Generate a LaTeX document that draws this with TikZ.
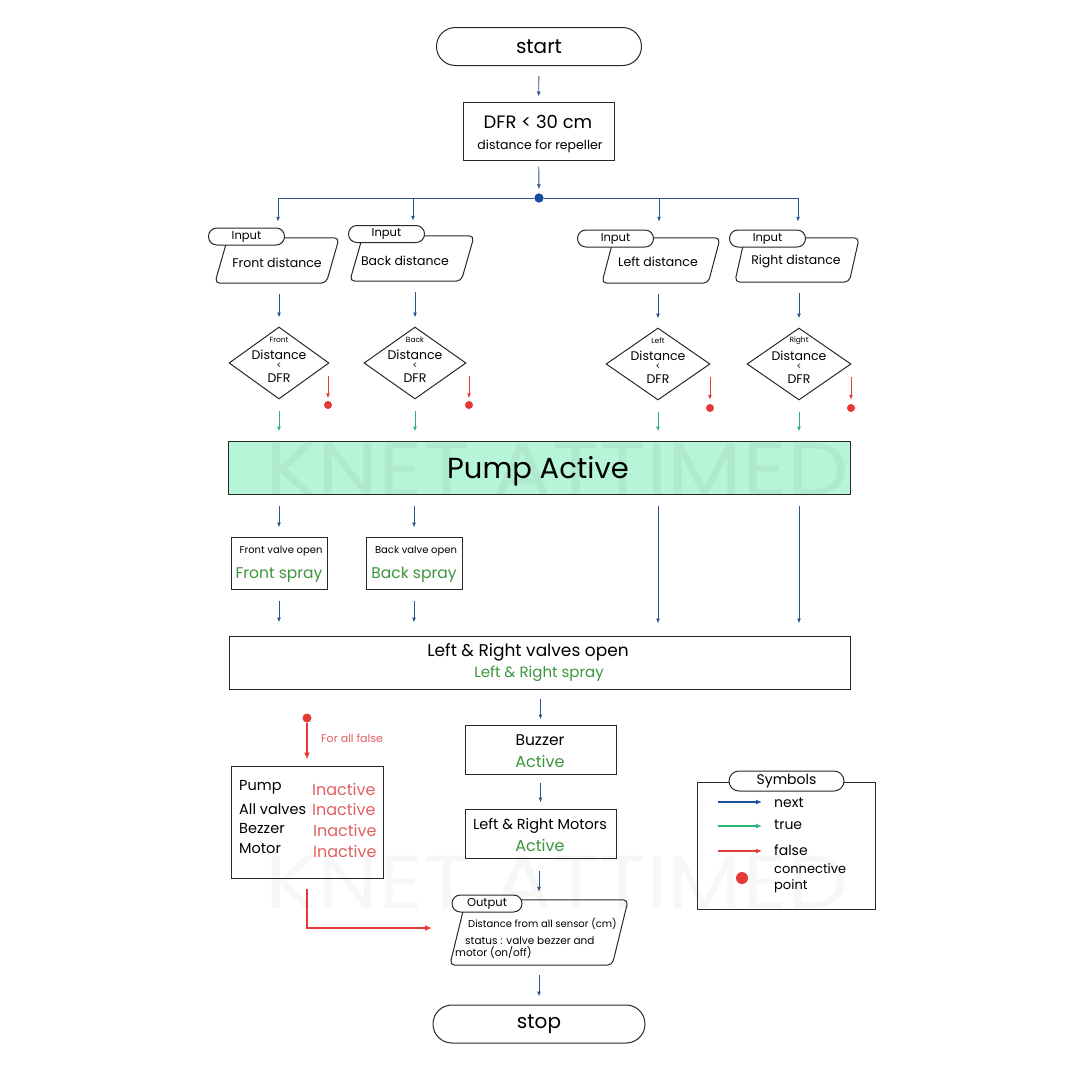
\documentclass[tikz,border=0pt]{standalone}
\usepackage{fontspec}
\setmainfont{Poppins}
\usetikzlibrary{arrows.meta,shapes.geometric,calc}
\definecolor{nextblue}{RGB}{45,85,140}
\definecolor{legblue}{RGB}{30,80,160}
\definecolor{dotblue}{RGB}{25,75,165}
\definecolor{truegreen}{RGB}{46,180,120}
\definecolor{falsered}{RGB}{229,57,53}
\definecolor{greentext}{RGB}{60,150,60}
\definecolor{redtext}{RGB}{224,95,95}
\definecolor{mint}{RGB}{183,245,216}
\definecolor{boxline}{RGB}{40,40,40}
\newcommand\fsz[1]{\fontsize{#1}{#1}\selectfont}
\newcommand\pgram[2]{\draw[boxline, line width=1pt, rounded corners=5pt] ($(#1.north west)+(#2,0)$) -- (#1.north east) -- ($(#1.south east)+(-#2,0)$) -- (#1.south west) -- cycle;}
\begin{document}
\begin{tikzpicture}[x=1pt,y=-1pt,
  box/.style={draw=boxline, line width=1pt, inner sep=0pt},
  term/.style={draw=boxline, line width=1pt, inner sep=0pt, rounded corners=18.9pt},
  tab/.style={draw=boxline, line width=1pt, fill=white, inner sep=0pt, rounded corners=8.4pt},
  pg/.style={inner sep=0pt},
  dia/.style={diamond, draw=boxline, line width=1pt, inner sep=0pt},
  rdot/.style={circle, fill=falsered, inner sep=0pt, minimum size=8pt},
  nextarr/.style={draw=nextblue, line width=0.9pt, -{Latex[length=5pt,width=4pt]}},
  truearr/.style={draw=truegreen, line width=0.9pt, -{Latex[length=5pt,width=4pt]}},
  falsearr/.style={draw=falsered, line width=0.9pt, -{Latex[length=5pt,width=4pt]}},
  bigfalse/.style={draw=falsered, line width=1.8pt, -{Latex[length=7pt,width=6pt]}},
  lbl/.style={inner sep=0pt}
]
\fill[white] (0,0) rectangle (1080,1080);
\useasboundingbox (0,0) rectangle (1080,1080);

% start and DFR
\node[term, minimum width=205pt, minimum height=38pt] (start) at (539,46.5) {\fsz{20}start};
\node[box, minimum width=151pt, minimum height=58pt] (dfr) at (538.5,131) {};
\node[lbl] (dfrt) at (538,122) {\fsz{18}DFR < 30 cm};
\node[lbl] (dfrs) at (540,146) {\fsz{12.5}distance for repeller};
\draw[nextarr, shorten <=10pt, shorten >=5pt] (start) -- (dfr);

% inputs
\node[pg, minimum width=124pt, minimum height=45pt] (inF) at (277,260.5) {};
\node[pg, minimum width=124pt, minimum height=45pt] (inB) at (412,258.5) {};
\node[pg, minimum width=118pt, minimum height=45pt] (inL) at (661,260.5) {};
\node[pg, minimum width=124pt, minimum height=44pt] (inR) at (797,260) {};
\node[lbl] (inFt) at (277,262.5) {\fsz{12.5}Front distance};
\node[lbl] (inBt) at (405,260.5) {\fsz{12.5}Back distance};
\node[lbl] (inLt) at (658,261.5) {\fsz{12.5}Left distance};
\node[lbl] (inRt) at (796,261.5) {\fsz{12.5}Right distance};
\pgram{inF}{13}
\pgram{inB}{13}
\pgram{inL}{12}
\pgram{inR}{10}
\node[tab, minimum width=76pt, minimum height=17pt] (tF) at (246.5,236.5) {\fsz{11.5}Input};
\node[tab, minimum width=76pt, minimum height=17pt] (tB) at (386.5,234) {\fsz{11.5}Input};
\node[tab, minimum width=76pt, minimum height=17pt] (tL) at (615.5,238.5) {\fsz{11.5}Input};
\node[tab, minimum width=76pt, minimum height=17pt] (tR) at (767.5,238.5) {\fsz{11.5}Input};

% splitter
\node[circle, fill=dotblue, inner sep=0pt, minimum size=9pt] (split) at (539,198) {};
\draw[nextarr, shorten <=6pt, shorten >=4pt] (dfr) -- (split);
\draw[nextarr, shorten >=16pt] (split) -| ($(inF.north)+(1,0)$);
\draw[nextarr, shorten >=15pt] (split) -| ($(inB.north)+(1,0)$);
\draw[nextarr, shorten >=16pt] (split) -| ($(inL.north)+(-2,0)$);
\draw[nextarr, shorten >=16pt] (split) -| ($(inR.north)+(1,0)$);
\node[circle, fill=dotblue, inner sep=0pt, minimum size=9pt] at (split) {};

% diamonds
\node[dia, minimum width=100pt, minimum height=72pt] (dF) at (279,363) {};
\node[dia, minimum width=102pt, minimum height=72pt] (dB) at (415,363) {};
\node[dia, minimum width=104pt, minimum height=72pt] (dL) at (658,364) {};
\node[dia, minimum width=104pt, minimum height=72pt] (dR) at (799,364) {};
\foreach \n/\lab/\x/\y in {dF/Front/279/363, dB/Back/415/363, dL/Left/658/364, dR/Right/799/364}{
  \node[lbl] (\n a) at (\x,\y-23) {\fsz{7.5}\lab};
  \node[lbl] (\n b) at (\x,\y-8.5) {\fsz{12.5}Distance};
  \node[lbl] (\n c) at (\x,\y+3) {\fsz{9}<};
  \node[lbl] (\n d) at (\x,\y+15) {\fsz{12.5}DFR};
}
\draw[nextarr, shorten <=11pt, shorten >=9pt] (inF.south -| dF) -- (dF.north);
\draw[nextarr, shorten <=11pt, shorten >=9pt] (inB.south -| dB) -- (dB.north);
\draw[nextarr, shorten <=11pt, shorten >=9pt] (inL.south -| dL) -- (dL.north);
\draw[nextarr, shorten <=11pt, shorten >=9pt] (inR.south -| dR) -- (dR.north);

% false markers
\node[rdot] (rF) at (328,405) {};
\node[rdot] (rB) at (469,405) {};
\node[rdot] (rL) at (710,408) {};
\node[rdot] (rR) at (851,408) {};
\coordinate (rFs) at (328,376);
\coordinate (rBs) at (469,376);
\coordinate (rLs) at (710,377);
\coordinate (rRs) at (851,377);
\draw[falsearr, shorten >=2.5pt] (rFs) -- (rF);
\draw[falsearr, shorten >=2.5pt] (rBs) -- (rB);
\draw[falsearr, shorten >=4pt] (rLs) -- (rL);
\draw[falsearr, shorten >=4pt] (rRs) -- (rR);

% pump
\node[box, fill=mint, minimum width=622pt, minimum height=53pt] (pump) at (539,467.5) {};
\node[lbl] (pumpt) at (538,471) {\fsz{29}Pump Active};
\draw[truearr, shorten <=11pt, shorten >=9pt] (dF.south) -- (dF.south |- pump.north);
\draw[truearr, shorten <=11pt, shorten >=9pt] (dB.south) -- (dB.south |- pump.north);
\draw[truearr, shorten <=11pt, shorten >=9pt] (dL.south) -- (dL.south |- pump.north);
\draw[truearr, shorten <=11pt, shorten >=9pt] (dR.south) -- (dR.south |- pump.north);

% valves
\node[box, minimum width=96pt, minimum height=52pt] (fv) at (279,563) {};
\node[lbl] (fvt) at (281,551) {\fsz{10}Front valve open};
\node[lbl, text=greentext] (fvs) at (279,575) {\fsz{15.5}Front spray};
\node[box, minimum width=96pt, minimum height=52pt] (bv) at (414,563) {};
\node[lbl] (bvt) at (416,551) {\fsz{10}Back valve open};
\node[lbl, text=greentext] (bvs) at (414,575) {\fsz{15.5}Back spray};

\node[box, minimum width=621pt, minimum height=53pt] (lr) at (539.5,662.5) {};
\node[lbl] (lrt) at (528,652) {\fsz{17}Left \& Right valves open};
\node[lbl, text=greentext] (lrs) at (539,674) {\fsz{15}Left \& Right spray};

\draw[nextarr, shorten <=11pt, shorten >=9pt] (pump.south -| fv) -- (fv.north);
\draw[nextarr, shorten <=11pt, shorten >=9pt] (pump.south -| bv) -- (bv.north);
\draw[nextarr, shorten <=11pt, shorten >=12pt] (pump.south -| dL) -- (lr.north -| dL);
\draw[nextarr, shorten <=11pt, shorten >=12pt] (pump.south -| dR) -- (lr.north -| dR);
\draw[nextarr, shorten <=11pt, shorten >=13pt] (fv.south) -- (fv.south |- lr.north);
\draw[nextarr, shorten <=11pt, shorten >=13pt] (bv.south) -- (bv.south |- lr.north);

% buzzer, motors
\node[box, minimum width=151pt, minimum height=49pt] (buz) at (540.5,749.5) {};
\node[lbl] (buzt) at (540,740) {\fsz{15.5}Buzzer};
\node[lbl, text=greentext] (buza) at (540,761) {\fsz{16}Active};
\node[box, minimum width=151pt, minimum height=49pt] (mot) at (540.5,833.5) {};
\node[lbl] (mott) at (540,826) {\fsz{14.5}Left \& Right Motors};
\node[lbl, text=greentext] (mota) at (540,845) {\fsz{16}Active};
\draw[nextarr, shorten <=9pt, shorten >=5pt] (lr.south -| buz) -- (buz.north);
\draw[nextarr, shorten <=8pt, shorten >=6pt] (buz) -- (mot);

% output
\node[pg, minimum width=178pt, minimum height=65pt] (outp) at (539,932.5) {};
\pgram{outp}{16}
\node[tab, minimum width=70pt, minimum height=17pt] (tO) at (487,903.5) {\fsz{11.5}Output};
\node[lbl, anchor=west] (o1) at (468,924) {\fsz{10}Distance from all sensor (cm)};
\node[lbl, anchor=west] (o2) at (465,941) {\fsz{10.5}status : valve bezzer and};
\node[lbl, anchor=west] (o3) at (455,953) {\fsz{10.5}motor (on/off)};
\draw[nextarr, shorten <=12pt, shorten >=8pt] (mot.south -| outp) -- (outp.north);

% stop
\node[term, minimum width=212pt, minimum height=38pt] (stop) at (539,1024) {\fsz{20}stop};
\draw[nextarr, shorten <=10pt, shorten >=8pt] (outp) -- (stop);

% all false branch
\node[box, minimum width=152pt, minimum height=112pt] (inact) at (307,822) {};
\node[circle, fill=falsered, inner sep=0pt, minimum size=9pt] (fdot) at (307,718) {};
\draw[bigfalse, shorten >=6pt] (fdot) -- (fdot |- inact.north);
\node[lbl, anchor=west, text=redtext] (fall) at (321,738) {\fsz{11}For all false};
\node[lbl, anchor=west] (p1) at (239,787) {\fsz{14.5}Pump};
\node[lbl, anchor=west] (p2) at (239,809) {\fsz{14.5}All valves};
\node[lbl, anchor=west] (p3) at (239,828) {\fsz{14.5}Bezzer};
\node[lbl, anchor=west] (p4) at (239,849) {\fsz{14.5}Motor};
\node[lbl, anchor=west, text=redtext] (q1) at (312,789) {\fsz{16}Inactive};
\node[lbl, anchor=west, text=redtext] (q2) at (312,809) {\fsz{16}Inactive};
\node[lbl, anchor=west, text=redtext] (q3) at (313,830) {\fsz{16}Inactive};
\node[lbl, anchor=west, text=redtext] (q4) at (313,851) {\fsz{16}Inactive};
\coordinate (fend) at (432,928);
\draw[bigfalse, shorten <=10pt] (inact.south) |- (fend);

% legend
\node[box, minimum width=178pt, minimum height=127pt] (leg) at (786,845.5) {};
\node[tab, minimum width=115pt, minimum height=20pt, rounded corners=10pt] (tS) at (786.5,781) {\fsz{14}Symbols};
\coordinate (l1a) at (718,802); \coordinate (l1b) at (762,802);
\coordinate (l2a) at (718,826); \coordinate (l2b) at (762,826);
\coordinate (l3a) at (718,851); \coordinate (l3b) at (762,851);
\draw[draw=legblue, line width=1.3pt, -{Latex[length=6pt,width=5pt]}] (l1a) -- (l1b);
\draw[draw=truegreen, line width=1.3pt, -{Latex[length=6pt,width=5pt]}] (l2a) -- (l2b);
\draw[draw=falsered, line width=1.3pt, -{Latex[length=6pt,width=5pt]}] (l3a) -- (l3b);
\node[circle, fill=falsered, inner sep=0pt, minimum size=12pt] (ldot) at (742,878) {};
\node[lbl, anchor=west] (s1) at (774,803) {\fsz{14}next};
\node[lbl, anchor=west] (s2) at (774,825) {\fsz{14}true};
\node[lbl, anchor=west] (s3) at (774,850) {\fsz{14}false};
\node[lbl, anchor=west] (s4) at (774,869) {\fsz{13}connective};
\node[lbl, anchor=west] (s5) at (774,886) {\fsz{13}point};

% watermark
\node[lbl, text opacity=0.045, xscale=1.16] (wm1) at (557,469) {\fsz{75}KNET ATTIMED};
\node[lbl, text opacity=0.03, xscale=1.16] (wm2) at (557,882) {\fsz{75}KNET ATTIMED};
\end{tikzpicture}
\end{document}
